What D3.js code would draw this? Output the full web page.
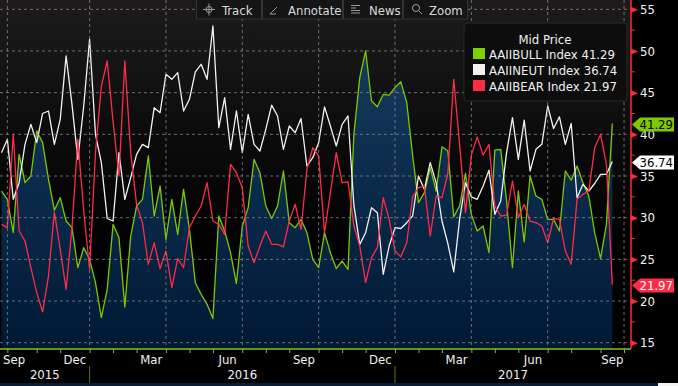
<html>
<head>
<script src="https://cdn.jsdelivr.net/npm/d3@7"></script>
<style>
body{margin:0;background:#000;overflow:hidden}
text{font-family:"DejaVu Sans Condensed","DejaVu Sans",sans-serif;font-stretch:condensed}
</style>
</head>
<body>
<script>
var startDate = "2015-09-24";   // weekly readings, Thursdays
var bull = [33.2,32.2,28.2,37.6,34.2,35.0,40.4,39.0,34.6,30.9, 32.4,29.6,28.8,24.0,26.4,25.0,22.2,18.0,21.4,29.2,
            27.6,19.3,27.8,31.4,32.2,37.4,30.2,33.8,27.4,32.2, 28.0,33.4,28.6,22.2,20.8,19.6,17.9,30.2,28.4,25.8,
            22.1,29.0,31.2,37.0,35.4,31.4,29.9,31.4,35.6,29.4, 28.8,29.8,28.2,25.0,24.0,28.2,25.8,23.9,24.8,23.8,
            40.0,46.8,50.0,44.0,43.3,44.8,44.7,45.6,46.3,43.8, 37.5,31.8,33.0,36.0,33.2,38.5,38.0,30.1,31.4,35.3,
            30.4,28.4,29.0,25.8,38.1,38.2,32.0,24.0,33.2,27.1, 35.0,32.6,32.2,29.8,29.8,28.4,35.6,34.5,36.2,34.2,
            32.6,28.2,25.1,29.2,41.29];
var neutral = [37.8,39.4,32.2,34.2,38.8,41.2,39.0,42.5,42.8,38.8, 41.8,49.4,43.6,37.0,43.4,51.4,40.0,36.6,29.9,29.6,
            37.8,32.2,34.8,37.6,38.8,38.4,43.2,42.6,47.2,46.6, 47.4,42.8,44.2,47.5,48.4,46.6,53.0,40.8,44.4,38.2,
            42.8,37.8,42.4,38.8,38.0,40.6,43.5,42.2,38.2,41.0, 40.2,41.9,36.2,37.2,39.0,43.3,41.0,38.6,41.2,42.2,
            31.5,26.8,28.2,31.2,30.6,23.2,26.6,28.8,28.7,29.4, 30.2,35.0,33.4,36.6,34.2,29.6,26.9,23.5,29.8,34.2,
            32.5,32.2,33.8,35.7,30.4,32.0,37.8,42.0,37.0,41.7, 35.6,38.2,38.8,43.4,40.7,42.1,38.8,41.3,32.4,34.0,
            33.2,34.1,35.2,35.2,36.74];
var bear = [29.2,28.8,40.0,28.4,27.2,24.0,21.0,18.7,23.0,30.7, 26.2,21.4,28.8,39.4,30.8,23.8,37.8,45.8,48.8,41.5,
            35.0,48.8,37.8,31.6,29.4,24.4,27.0,23.9,26.0,21.6, 25.1,24.0,28.8,30.2,31.4,34.2,29.6,29.2,28.0,36.4,
            35.4,33.6,26.6,24.6,26.6,28.4,26.8,26.8,26.5,29.6, 31.6,28.6,35.8,38.4,37.4,28.2,33.0,37.8,34.2,34.3,
            29.0,26.6,22.2,25.2,26.4,32.4,29.8,26.0,25.3,27.0, 32.5,33.6,33.8,27.8,32.6,32.4,35.3,46.6,38.8,30.6,
            37.5,39.7,37.5,38.8,31.4,30.2,30.3,34.4,30.0,31.6, 29.6,29.4,29.0,27.0,29.9,29.8,26.0,24.4,32.2,32.8,
            33.2,38.4,40.0,36.4,21.97];
var seriesNames = ["AAIIBULL Index","AAIINEUT Index","AAIIBEAR Index"];
var lastValues = [41.29, 36.74, 21.97];
var yTicks = [15,20,25,30,35,40,45,50,55];
var monthLabels = ["2015-09","2015-12","2016-03","2016-06","2016-09","2016-12","2017-03","2017-06","2017-09"];
var yearLabels = ["2015","2016","2017"];
var tools = ["Track","Annotate","News","Zoom"];

var colors = ["#7fc800","#f2f2f2","#ff2b47"];
var width = 678, height = 386;
var plotRight = 631, plotBottom = 349;

var svg = d3.select("body").append("svg").attr("width",width).attr("height",height);
var defs = svg.append("defs");
var bg = defs.append("linearGradient").attr("id","bg").attr("gradientUnits","userSpaceOnUse")
    .attr("x1",0).attr("y1",0).attr("x2",0).attr("y2",plotBottom);
[[0,"#1d1a1c"],[0.18,"#141514"],[0.4,"#0b0b0b"],[0.68,"#020202"],[1,"#000"]].forEach(s =>
    bg.append("stop").attr("offset",s[0]).attr("stop-color",s[1]));
var ag = defs.append("linearGradient").attr("id","area").attr("gradientUnits","userSpaceOnUse")
    .attr("x1",0).attr("y1",40).attr("x2",0).attr("y2",plotBottom);
[[0,"#173b5e"],[0.5,"#0a2a4a"],[1,"#001935"]].forEach(s =>
    ag.append("stop").attr("offset",s[0]).attr("stop-color",s[1]));
defs.append("clipPath").attr("id","clip").append("rect")
    .attr("x",0).attr("y",0).attr("width",plotRight).attr("height",plotBottom);

var parse = d3.timeParse("%Y-%m-%d");
var dates = bull.map((d,i) => d3.timeDay.offset(parse(startDate), 7*i));
var x = d3.scaleTime().domain([dates[0], dates[dates.length-1]]).range([1.5, 612.3]);
var y = d3.scaleLinear().domain([15,55]).range([342.7, 9.3]);

svg.append("rect").attr("width",plotRight).attr("height",plotBottom).attr("fill","url(#bg)");

// first reading of each month -> x ticks
var monthTicks = d3.timeMonth.range(new Date(2015,9,1), new Date(2017,10,1)).map(m => d3.timeThursday.ceil(m));
var quarterTicks = monthTicks.filter(d => d.getMonth() % 3 == 0);

var chart = svg.append("g").attr("clip-path","url(#clip)");
chart.append("path")
    .datum(bull)
    .attr("fill","url(#area)")
    .attr("d", d3.area().x((d,i) => x(dates[i])).y0(plotBottom).y1(d => y(d)));

var grid = svg.append("g").attr("stroke","#8c8c8c").attr("stroke-opacity",0.75).attr("stroke-dasharray","3,3");
grid.selectAll(".h").data(yTicks).enter().append("line")
    .attr("x1",0).attr("x2",plotRight).attr("y1",d => y(d)).attr("y2",d => y(d));
grid.selectAll(".v").data(quarterTicks).enter().append("line")
    .attr("x1",d => x(d)).attr("x2",d => x(d)).attr("y1",0).attr("y2",plotBottom);

[bull, neutral, bear].forEach(function(s, k){
    chart.append("path")
        .datum(s)
        .attr("fill","none")
        .attr("stroke",colors[k])
        .attr("stroke-width",1.3)
        .attr("stroke-linejoin","round")
        .attr("d", d3.line().x((d,i) => x(dates[i])).y(d => y(d)));
});

// bottom axis
var bottomAxis = d3.axisBottom(x).tickValues(monthTicks).tickSize(4).tickSizeOuter(0).tickFormat("");
var gx = svg.append("g").attr("transform","translate(0,"+plotBottom+")").call(bottomAxis);
gx.select(".domain").remove();
gx.selectAll("line").attr("stroke","#7cc41c");
svg.append("line").attr("x1",0).attr("x2",plotRight).attr("y1",plotBottom).attr("y2",plotBottom)
    .attr("stroke","#7cc41c").attr("stroke-width",1.5);

monthLabels.forEach(function(m){
    var start = parse(m+"-01");
    var a = x(d3.timeThursday.ceil(start)), b = x(d3.timeThursday.ceil(d3.timeMonth.offset(start,1)));
    var mid = (a+b)/2;
    svg.append("text")
        .attr("x", mid < 14 ? 3 : mid).attr("y",363.5)
        .attr("text-anchor", mid < 14 ? "start" : "middle")
        .attr("fill","#f0f0f0").attr("font-size",13)
        .text(d3.timeFormat("%b")(start));
});
yearLabels.forEach(function(yr){
    var a = Math.max(0, x(d3.timeThursday.ceil(new Date(+yr,0,1))));
    var b = Math.min(plotRight, x(d3.timeThursday.ceil(new Date(+yr+1,0,1))));
    svg.append("text").attr("x",(a+b)/2).attr("y",379).attr("text-anchor","middle")
        .attr("fill","#f0f0f0").attr("font-size",13).text(yr);
    if (a > 0) svg.append("line").attr("x1",a).attr("x2",a).attr("y1",366).attr("y2",383)
        .attr("stroke","#4d7a12");
});
svg.append("rect").attr("x",0).attr("y",383).attr("width",width).attr("height",3).attr("fill","#0a1c31");
svg.append("rect").attr("x",658).attr("y",383).attr("width",20).attr("height",3).attr("fill","#f4f4f4");

// right axis
var rightAxis = d3.axisRight(y).tickValues(yTicks).tickSize(0).tickPadding(9);
var gy = svg.append("g").attr("transform","translate("+plotRight+",0)").call(rightAxis);
gy.select(".domain").remove();
gy.selectAll("text").attr("fill","#f2f2f2").attr("font-size",13)
    .attr("font-family","'DejaVu Sans Condensed','DejaVu Sans',sans-serif");
gy.selectAll(".tick").append("path").attr("d","M0,-3L7,0L0,3Z").attr("fill","#ff2a3a");
svg.selectAll(".minor").data(yTicks.slice(0,-1).map(v => v+2.5)).enter().append("line")
    .attr("x1",plotRight).attr("x2",plotRight+4).attr("y1",d => y(d)).attr("y2",d => y(d))
    .attr("stroke","#ff2a3a");
svg.append("line").attr("x1",plotRight).attr("x2",plotRight).attr("y1",0).attr("y2",plotBottom)
    .attr("stroke","#ff2a3a").attr("stroke-width",1.5);

// last value tags
lastValues.forEach(function(v,k){
    var g = svg.append("g").attr("transform","translate(632,"+(y(v)+1)+")");
    g.append("path").attr("d","M0,0L8,-7L42,-7L42,7L8,7Z").attr("fill",colors[k] == "#f2f2f2" ? "#fff" : colors[k]);
    g.append("text").attr("x",7.5).attr("y",0).attr("dy","0.36em").attr("font-size",13)
        .attr("fill", k == 2 ? "#fff" : "#000").text(v.toFixed(2));
});

// legend
var legend = svg.append("g");
legend.append("rect").attr("x",464).attr("y",23).attr("width",163).attr("height",78).attr("rx",3)
    .attr("fill","#0c0d0c").attr("stroke","#2a2a2a");
legend.append("text").attr("x",545).attr("y",43.5).attr("text-anchor","middle")
    .attr("fill","#f0f0f0").attr("font-size",13).text("Mid Price");
seriesNames.forEach(function(n,k){
    legend.append("rect").attr("x",473).attr("y",48+k*16).attr("width",12).attr("height",11)
        .attr("fill",k == 0 ? "#80d000" : colors[k]);
    legend.append("text").attr("x",489).attr("y",59+k*16).attr("fill","#f0f0f0").attr("font-size",13)
        .text(n+" "+lastValues[k].toFixed(2));
});

// toolbar
var btnX = [196,262,343,403], btnW = [65,80,59,64];
var bar = svg.append("g");
tools.forEach(function(t,k){
    bar.append("rect").attr("x",btnX[k]+0.5).attr("y",-1).attr("width",btnW[k]).attr("height",20)
        .attr("fill","#151515").attr("stroke","#333");
    bar.append("text").attr("x",btnX[k]+26).attr("y",14.5).attr("fill","#d9d9d9").attr("font-size",13).text(t);
});
var ic = bar.append("g").attr("stroke","#9a9a9a").attr("fill","none");
ic.append("circle").attr("cx",209).attr("cy",9.5).attr("r",3);
ic.append("path").attr("d","M203,9.5H215M209,3.5V15.5");
ic.append("path").attr("d","M270,14L277,7M270,14H276");
ic.append("path").attr("d","M351,5.5H360M351,8H356M351,10.5H360M351,13H360");
ic.append("circle").attr("cx",416).attr("cy",8).attr("r",3.5);
ic.append("path").attr("d","M418.5,10.5L422,14");
</script>
</body>
</html>
